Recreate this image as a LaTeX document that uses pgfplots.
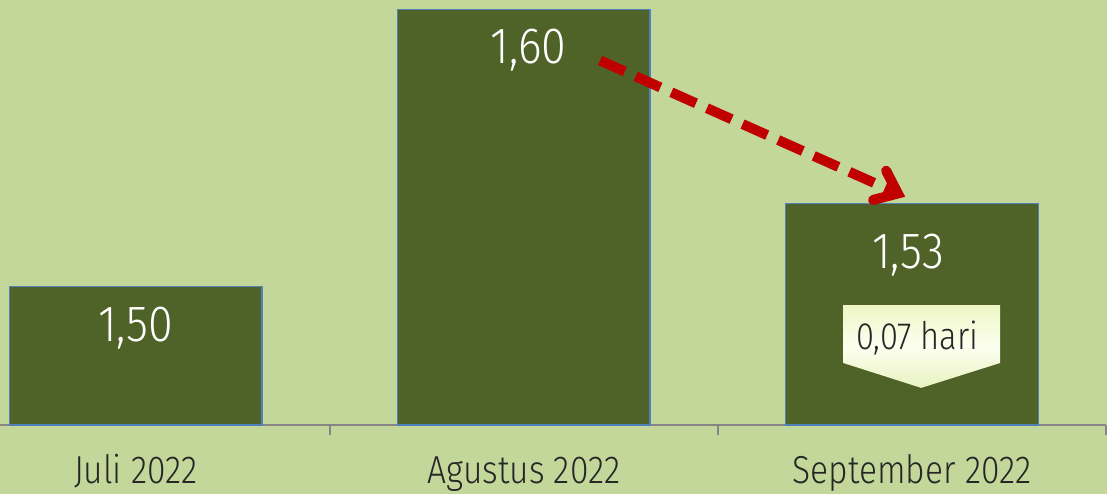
\documentclass[border=0pt]{standalone}
\usepackage{pgfplots}
\pgfplotsset{compat=1.18}
\usepackage{fontspec}
\setmainfont{Fira Sans Light}[FakeStretch=0.86]
\newfontfamily\valfont{Fira Sans Light}[FakeStretch=0.88]
\usetikzlibrary{arrows.meta}
\definecolor{bg}{HTML}{C4D79B}
\definecolor{barc}{HTML}{4F6228}
\definecolor{barline}{HTML}{4F81BD}
\definecolor{arr}{HTML}{C00000}
\definecolor{axl}{HTML}{868686}
\definecolor{ctop}{HTML}{EEF6C4}
\definecolor{cmid}{HTML}{FDFFF0}
\definecolor{cbot}{HTML}{E8F2C0}
\begin{document}
\begin{tikzpicture}
\fill[bg] (0,-34.5pt) rectangle (553.5pt,212.5pt);
\begin{axis}[
 at={(0,0)}, anchor=south west,
 scale only axis, width=553pt, height=212.5pt,
 xmin=-0.35, xmax=2.5, ymin=1.45, ymax=1.60343,
 axis y line=none, axis x line=bottom,
 axis line style={-, draw=axl, line width=1pt},
 xtick={0,1,2}, xticklabels={Juli 2022, Agustus 2022, September 2022},
 major tick length=0pt,
 minor xtick={0.5,1.5,2.5}, minor tick length=5pt, tick align=outside,
 tick style={draw=axl, line width=1pt},
 xticklabel style={font=\fontsize{19.5}{22}\selectfont, text=black!85, anchor=base, yshift=-29pt},
 ybar, bar width=0.65,
]
\addplot[fill=barc, draw=barline, line width=0.6pt] coordinates {(0,1.50) (1,1.60) (2,1.53)};
\node[text=white, font=\valfont\fontsize{25.5}{30}\selectfont] at (axis cs:0,1.4850) {1,50};
\node[text=white, font=\valfont\fontsize{25.5}{30}\selectfont] at (axis cs:1.012,1.5854) {1,60};
\node[text=white, font=\valfont\fontsize{25.5}{30}\selectfont] at (axis cs:1.99,1.5114) {1,53};
\draw[arr, line width=5pt, dash pattern=on 13.5pt off 6pt,
  -{Straight Barb[length=10pt, width=16pt, line cap=round]}]
  (axis cs:1.1964,1.5816) -- (axis cs:1.9825,1.5324);
\path[top color=ctop, bottom color=cbot, middle color=cmid, draw=none]
  (axis cs:1.8227,1.4933) -- (axis cs:2.2273,1.4933) -- (axis cs:2.2273,1.4724)
  -- (axis cs:2.0237,1.4634) -- (axis cs:1.8227,1.4724) -- cycle;
\node[text=black!85, font=\fontsize{19}{22}\selectfont] at (axis cs:2.0134,1.4814) {0,07 hari};
\end{axis}
\pgfresetboundingbox
\useasboundingbox (0,-34.5pt) rectangle (553.5pt,212.5pt);
\end{tikzpicture}
\end{document}
